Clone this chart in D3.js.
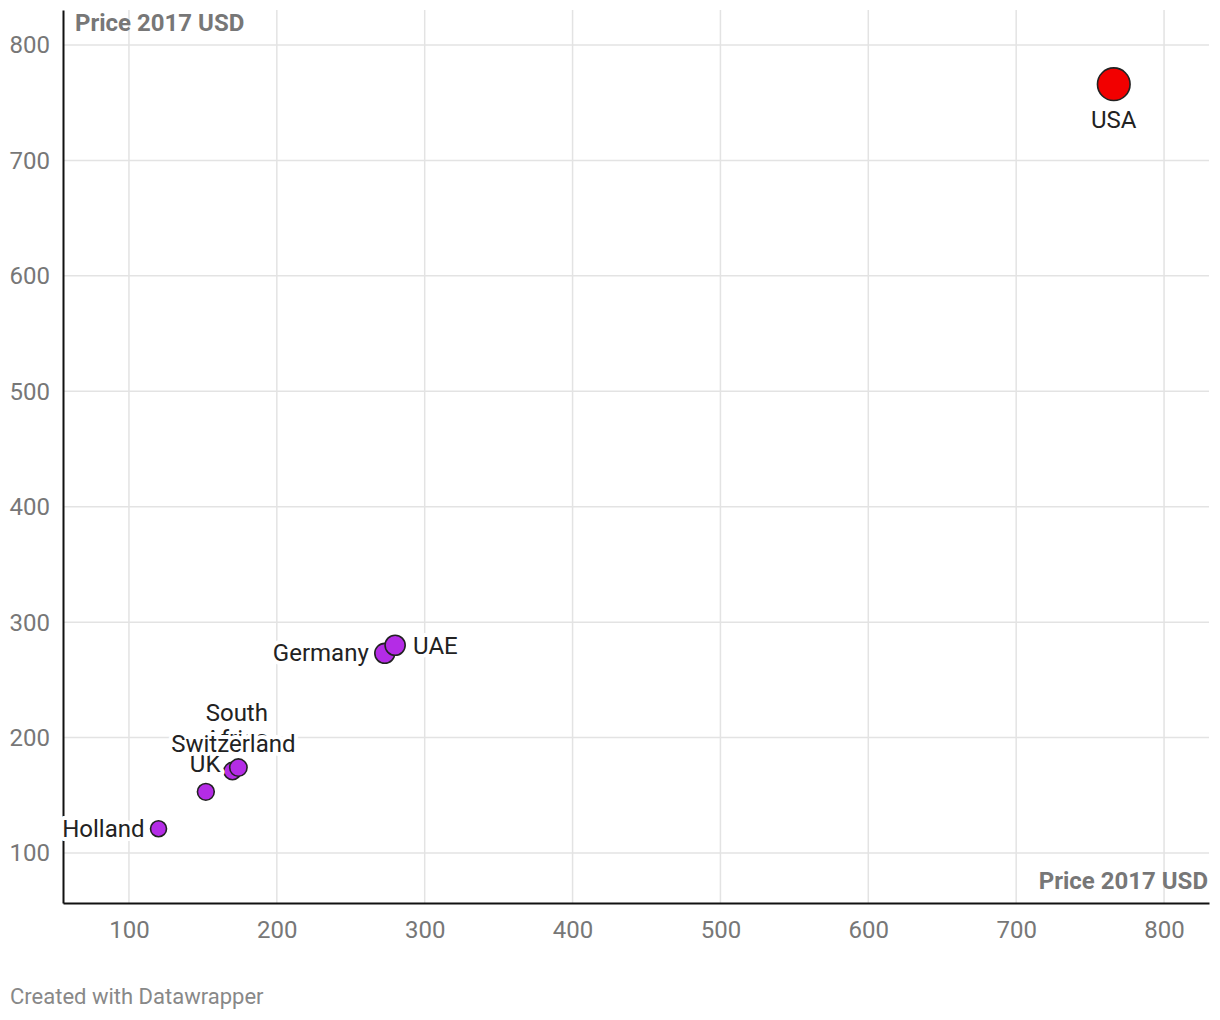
<!DOCTYPE html>
<html><head><meta charset="utf-8">
<script src="https://cdn.jsdelivr.net/npm/d3@7"></script>
<style>body{margin:0;background:#fff;font-family:Roboto,"Noto Sans",sans-serif;}</style>
</head><body><svg id="c" width="1220" height="1020"></svg>
<script>
const countries = ["USA","UAE","Germany","Switzerland","UK","South Africa","Holland"];
const xValues = [766, 280, 273, 174, 170, 152, 120];
const yValues = [766, 280, 273, 174, 171, 153, 121];
const highlight = [true,false,false,false,false,false,false];
const xTicks = [100,200,300,400,500,600,700,800];
const yTicks = [100,200,300,400,500,600,700,800];
const axisTitle = "Price 2017 USD";
const footer = "Created with Datawrapper";
// label placement: [dx, dy, anchor] relative to point center
const labelPlace = [
  [0, 44, "middle"], [18, 9, "start"], [-16, 8, "end"], [-5, -16, "middle"],
  [-12, 1, "end"], [31, -71, "middle"], [-14, 8, "end"]
];
const labelOrder = [0,1,2,5,4,3,6];

const svg = d3.select("#c");
const L = 63, R = 1209, T = 10, B = 903;
const x = d3.scaleLinear().domain([55.4, 830.4]).range([L, R]);
const y = d3.scaleLinear().domain([56.7, 830.3]).range([B, T]);
const r = d3.scaleLinear().domain([120, 766]).range([8, 16.3]);

const g = svg.append("g");
// gridlines
g.append("g").selectAll("line").data(yTicks).join("line")
  .attr("x1", L).attr("x2", R).attr("y1", d => y(d)).attr("y2", d => y(d))
  .attr("stroke", "#e3e3e3").attr("stroke-width", 1.5);
g.append("g").selectAll("line").data(xTicks).join("line")
  .attr("y1", T).attr("y2", B).attr("x1", d => x(d)).attr("x2", d => x(d))
  .attr("stroke", "#e3e3e3").attr("stroke-width", 1.5);

// axes
const xa = g.append("g").attr("transform", `translate(0,${B})`)
  .call(d3.axisBottom(x).tickValues(xTicks).tickSize(0).tickPadding(18));
xa.select(".domain").attr("stroke", "#111").attr("stroke-width", 2);
xa.selectAll("text").attr("fill", "#777").attr("font-size", 24).attr("font-family", "Roboto");
const ya = g.append("g").attr("transform", `translate(${L},0)`)
  .call(d3.axisLeft(y).tickValues(yTicks).tickSize(0).tickPadding(13));
ya.select(".domain").attr("stroke", "#111").attr("stroke-width", 2);
ya.selectAll("text").attr("fill", "#777").attr("font-size", 24).attr("font-family", "Roboto").attr("dy", "0.33em");

// axis titles
g.append("text").attr("x", L + 12).attr("y", 31).text(axisTitle)
  .attr("font-size", 24).attr("font-weight", "bold").attr("fill", "#777").attr("font-family", "Roboto");
g.append("text").attr("x", R - 1).attr("y", 889).attr("text-anchor", "end").text(axisTitle)
  .attr("font-size", 24).attr("font-weight", "bold").attr("fill", "#777").attr("font-family", "Roboto");

// points
const idx = d3.range(countries.length);
g.append("g").selectAll("circle").data(idx.slice().reverse()).join("circle")
  .attr("cx", i => x(xValues[i])).attr("cy", i => y(yValues[i]))
  .attr("r", i => r(xValues[i]))
  .attr("fill", i => highlight[i] ? "#f20000" : "#b42ce6")
  .attr("stroke", "#222").attr("stroke-width", 1.6);

// labels
const lg = g.append("g");
labelOrder.forEach(i => {
  const p = labelPlace[i];
  const t = lg.append("text")
    .attr("x", x(xValues[i]) + p[0]).attr("y", y(yValues[i]) + p[1])
    .attr("text-anchor", p[2]).attr("font-size", 24).attr("font-family", "Roboto")
    .attr("fill", "#222").attr("stroke", "#fff").attr("stroke-width", 8)
    .attr("stroke-linejoin", "round").attr("paint-order", "stroke");
  const parts = countries[i] === "South Africa" ? ["South", "Africa"] : [countries[i]];
  parts.forEach((s, k) => t.append("tspan").attr("x", x(xValues[i]) + p[0]).attr("dy", k ? 26 : 0).text(s));
});

svg.append("text").attr("x", 10).attr("y", 1004).text(footer)
  .attr("font-size", 22).attr("fill", "#888").attr("font-family", "Roboto");
</script></body></html>
